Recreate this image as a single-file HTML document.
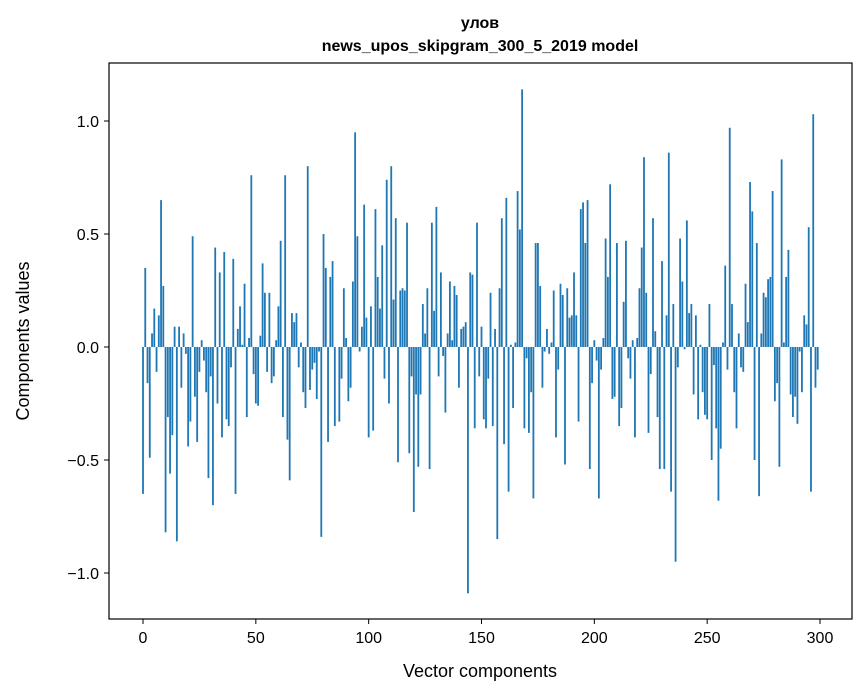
<!DOCTYPE html>
<html><head><meta charset="utf-8"><style>
html,body{margin:0;padding:0;background:#fff;}
svg{display:block;font-family:"Liberation Sans","DejaVu Sans",sans-serif;}
</style></head><body>
<svg id="chart" width="867" height="696" xmlns="http://www.w3.org/2000/svg">
<rect width="867" height="696" fill="#fff"/>
<text x="480" y="28" text-anchor="middle" font-size="16" font-weight="bold">улов</text>
<text x="480" y="51" text-anchor="middle" font-size="16" font-weight="bold">news_upos_skipgram_300_5_2019 model</text>
<g id="bars"></g>
<g id="axes"></g>
<rect x="109" y="63" width="743" height="556" fill="none" stroke="#000" stroke-width="1.2"/>
<text x="480" y="677" text-anchor="middle" font-size="18">Vector components</text>
<text transform="translate(29,341) rotate(-90)" text-anchor="middle" font-size="18">Components values</text>
</svg>
<script>
const values = [
-0.65,0.35,-0.16,-0.49,0.06,0.17,-0.11,0.14,0.65,0.27,
-0.82,-0.31,-0.56,-0.39,0.09,-0.86,0.09,-0.18,0.06,-0.03,
-0.44,-0.33,0.49,-0.22,-0.42,-0.11,0.03,-0.06,-0.2,-0.58,
-0.13,-0.70,0.44,-0.25,0.33,-0.40,0.42,-0.32,-0.35,-0.09,
0.39,-0.65,0.08,0.18,0.01,0.28,-0.31,0.04,0.76,-0.12,
-0.25,-0.26,0.05,0.37,0.24,-0.11,0.24,-0.16,-0.13,0.03,
0.18,0.47,-0.31,0.76,-0.41,-0.59,0.15,0.11,0.15,-0.09,
0.02,-0.2,-0.27,0.80,-0.19,-0.1,-0.07,-0.23,-0.02,-0.84,
0.50,0.35,-0.42,0.31,0.38,-0.35,0.0,-0.33,-0.14,0.26,
0.04,-0.24,-0.18,0.29,0.95,0.49,-0.02,0.09,0.63,0.13,
-0.40,0.18,-0.37,0.61,0.31,0.17,0.45,-0.14,0.74,-0.25,
0.80,0.21,0.57,-0.51,0.25,0.26,0.25,0.55,-0.47,-0.13,
-0.73,-0.21,-0.53,-0.21,0.19,0.06,0.26,-0.54,0.55,0.16,
0.62,-0.13,0.33,-0.04,-0.29,0.06,0.29,0.03,0.27,0.23,
-0.18,0.08,0.09,0.11,-1.09,0.33,0.32,-0.36,0.55,-0.13,
0.09,-0.32,-0.36,-0.14,0.24,-0.35,0.08,-0.85,0.26,0.57,
-0.43,0.66,-0.64,0.01,-0.27,0.02,0.69,0.52,1.14,-0.36,
-0.05,-0.38,-0.20,-0.67,0.46,0.46,0.27,-0.18,-0.02,0.08,
-0.03,0.02,0.25,-0.40,-0.10,0.28,0.23,-0.52,0.26,0.13,
0.14,0.33,0.14,-0.33,0.61,0.64,0.46,0.65,-0.54,-0.16,
0.03,-0.06,-0.67,-0.10,0.04,0.48,0.31,0.72,-0.23,-0.22,
0.46,-0.35,-0.27,0.20,0.47,-0.05,-0.14,0.03,-0.40,0.04,
0.26,0.44,0.84,0.24,-0.38,-0.12,0.57,0.07,-0.31,-0.54,
0.38,-0.54,0.14,0.86,-0.64,0.19,-0.95,-0.09,0.48,0.29,
-0.01,0.56,0.15,0.19,-0.21,0.14,-0.32,0.01,-0.20,-0.30,
-0.32,0.19,-0.50,-0.08,-0.36,-0.68,-0.45,0.02,0.36,-0.10,
0.97,0.19,-0.20,-0.36,0.06,-0.09,-0.11,0.28,0.11,0.73,
0.60,-0.50,0.46,-0.66,0.06,0.24,0.22,0.30,0.31,0.69,
-0.24,-0.16,-0.53,0.83,0.02,0.31,0.43,-0.21,-0.31,-0.22,
-0.34,-0.02,-0.20,0.14,0.10,0.53,-0.64,1.03,-0.18,-0.10
];
const xTicks = [0,50,100,150,200,250,300];
const yTicks = [-1.0,-0.5,0.0,0.5,1.0];
const yTickLabels = ["\u22121.0","\u22120.5","0.0","0.5","1.0"];

const NS = "http://www.w3.org/2000/svg";
const xs = v => 143 + v * (677/300);
const ys = v => 347 - v * 226;
const bw = 0.8 * 677/300;

const bars = document.getElementById('bars');
values.forEach((v, i) => {
  const r = document.createElementNS(NS, 'rect');
  r.setAttribute('x', xs(i) - bw/2);
  r.setAttribute('y', Math.min(ys(v), ys(0)));
  r.setAttribute('width', bw);
  r.setAttribute('height', Math.abs(ys(v) - ys(0)));
  r.setAttribute('fill', '#1f77b4');
  
  
  bars.appendChild(r);
});

const axes = document.getElementById('axes');
xTicks.forEach(t => {
  const l = document.createElementNS(NS, 'line');
  l.setAttribute('x1', xs(t)); l.setAttribute('x2', xs(t));
  l.setAttribute('y1', 619); l.setAttribute('y2', 624);
  l.setAttribute('stroke', '#000');
  
  
  axes.appendChild(l);
  const tx = document.createElementNS(NS, 'text');
  tx.setAttribute('x', xs(t)); tx.setAttribute('y', 643);
  tx.setAttribute('text-anchor', 'middle'); tx.setAttribute('font-size', '16');
  tx.textContent = t;
  
  
  axes.appendChild(tx);
});
yTicks.forEach((t, i) => {
  const l = document.createElementNS(NS, 'line');
  l.setAttribute('x1', 104); l.setAttribute('x2', 109);
  l.setAttribute('y1', ys(t)); l.setAttribute('y2', ys(t));
  l.setAttribute('stroke', '#000');
  
  
  axes.appendChild(l);
  const tx = document.createElementNS(NS, 'text');
  tx.setAttribute('x', 99); tx.setAttribute('y', ys(t) + 6);
  tx.setAttribute('text-anchor', 'end'); tx.setAttribute('font-size', '16');
  tx.textContent = yTickLabels[i];
  
  
  axes.appendChild(tx);
});
</script>
</body></html>
